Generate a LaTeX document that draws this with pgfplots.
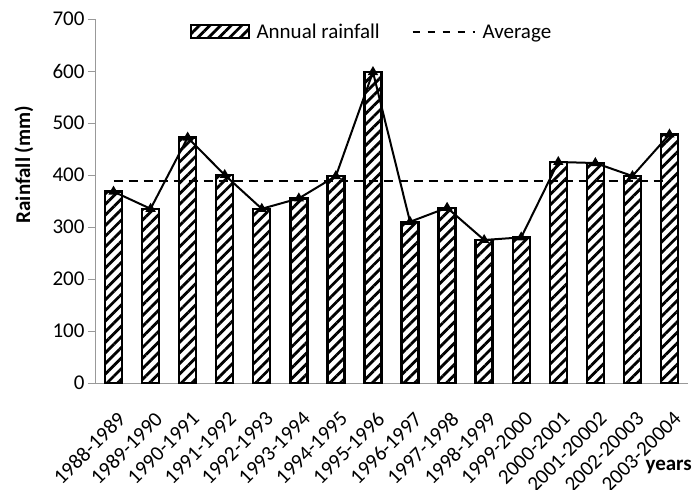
\documentclass[border=0pt]{standalone}
\usepackage{pgfplots}
\pgfplotsset{compat=1.18}
\usepackage{fontspec}
\setmainfont{Carlito}
\usetikzlibrary{patterns.meta}
\newcommand{\fnt}{\fontsize{21bp}{25bp}\selectfont}
\begin{document}
\begin{tikzpicture}
\begin{axis}[
  scale only axis,
  width=593bp, height=364bp,
  xmin=-0.5, xmax=15.5,
  ymin=0, ymax=700,
  ytick={0,100,...,700},
  xtick={0,...,15},
  xticklabels={1988-1989,1989-1990,1990-1991,1991-1992,1992-1993,1993-1994,1994-1995,1995-1996,1996-1997,1997-1998,1998-1999,1999-2000,2000-2001,2001-20002,2002-20003,2003-20004},
  x tick label style={xshift=3bp, yshift=-19bp, rotate=45, anchor=north east, font=\fnt, inner sep=1bp},
  y tick label style={font=\fnt},
  /pgf/number format/assume math mode=true,
  axis x line*=bottom, axis y line*=left,
  axis line style={draw=gray!80, line width=0.8bp},
  xtick style={draw=none},
  ytick style={draw=gray!80, line width=0.8bp},
  tick align=outside,
  major tick length=7bp,
  extra x ticks={-0.5,7.5,15.5},
  extra x tick labels={},
  extra x tick style={major tick length=10bp, tick style={draw=gray!80, line width=0.8bp}},
  every axis y label/.style={at={(rel axis cs:0,0.6)}, xshift=-71bp, anchor=center, rotate=90, inner sep=0pt},
  ylabel={\fnt\bfseries Rainfall (mm)},
  legend columns=2,
  legend style={at={(rel axis cs:0.466,0.964)}, anchor=center, draw=none, fill=none, font=\fnt, column sep=5bp, /tikz/every even column/.append style={column sep=30bp}},
  legend cell align=left,
  clip=false,
]
\addplot[ybar, bar width=17bp, draw=black, line width=2.4bp,
  pattern={Lines[angle=45, distance=7.5bp, line width=2.8bp]}, pattern color=black,
  legend image code/.code={\draw[draw=black, line width=2bp, pattern={Lines[angle=45, distance=7.5bp, line width=2.8bp]}, pattern color=black] (0bp,-6bp) rectangle (58bp,7bp);}]
coordinates {
(0,368) (1,335) (2,472) (3,400) (4,335) (5,355) (6,398) (7,598)
(8,310) (9,337) (10,275) (11,280) (12,425) (13,423) (14,398) (15,478)
};
\addlegendentry{Annual rainfall}
\addplot[black, line width=1.8bp, dash pattern=on 9bp off 6bp,
  legend image code/.code={\draw[black, line width=1.8bp, dash pattern=on 7bp off 8bp] (0bp,0bp) -- (62bp,0bp);}]
coordinates {(0,388) (15,388)};
\addlegendentry{Average}
\addplot[black, line width=2bp, mark=triangle*, mark size=4bp, forget plot]
coordinates {
(0,368) (1,335) (2,472) (3,400) (4,335) (5,355) (6,398) (7,598)
(8,310) (9,337) (10,275) (11,280) (12,425) (13,423) (14,398) (15,478)
};
\node[font=\fnt\bfseries, anchor=north east, inner sep=0pt] at (rel axis cs:1,0) [xshift=4bp, yshift=-77bp] {years};
\end{axis}
\pgfresetboundingbox
\path[use as bounding box] ([shift={(-95bp,-107bp)}]current axis.south west) rectangle ([shift={(4bp,19bp)}]current axis.north east);
\end{tikzpicture}
\end{document}
